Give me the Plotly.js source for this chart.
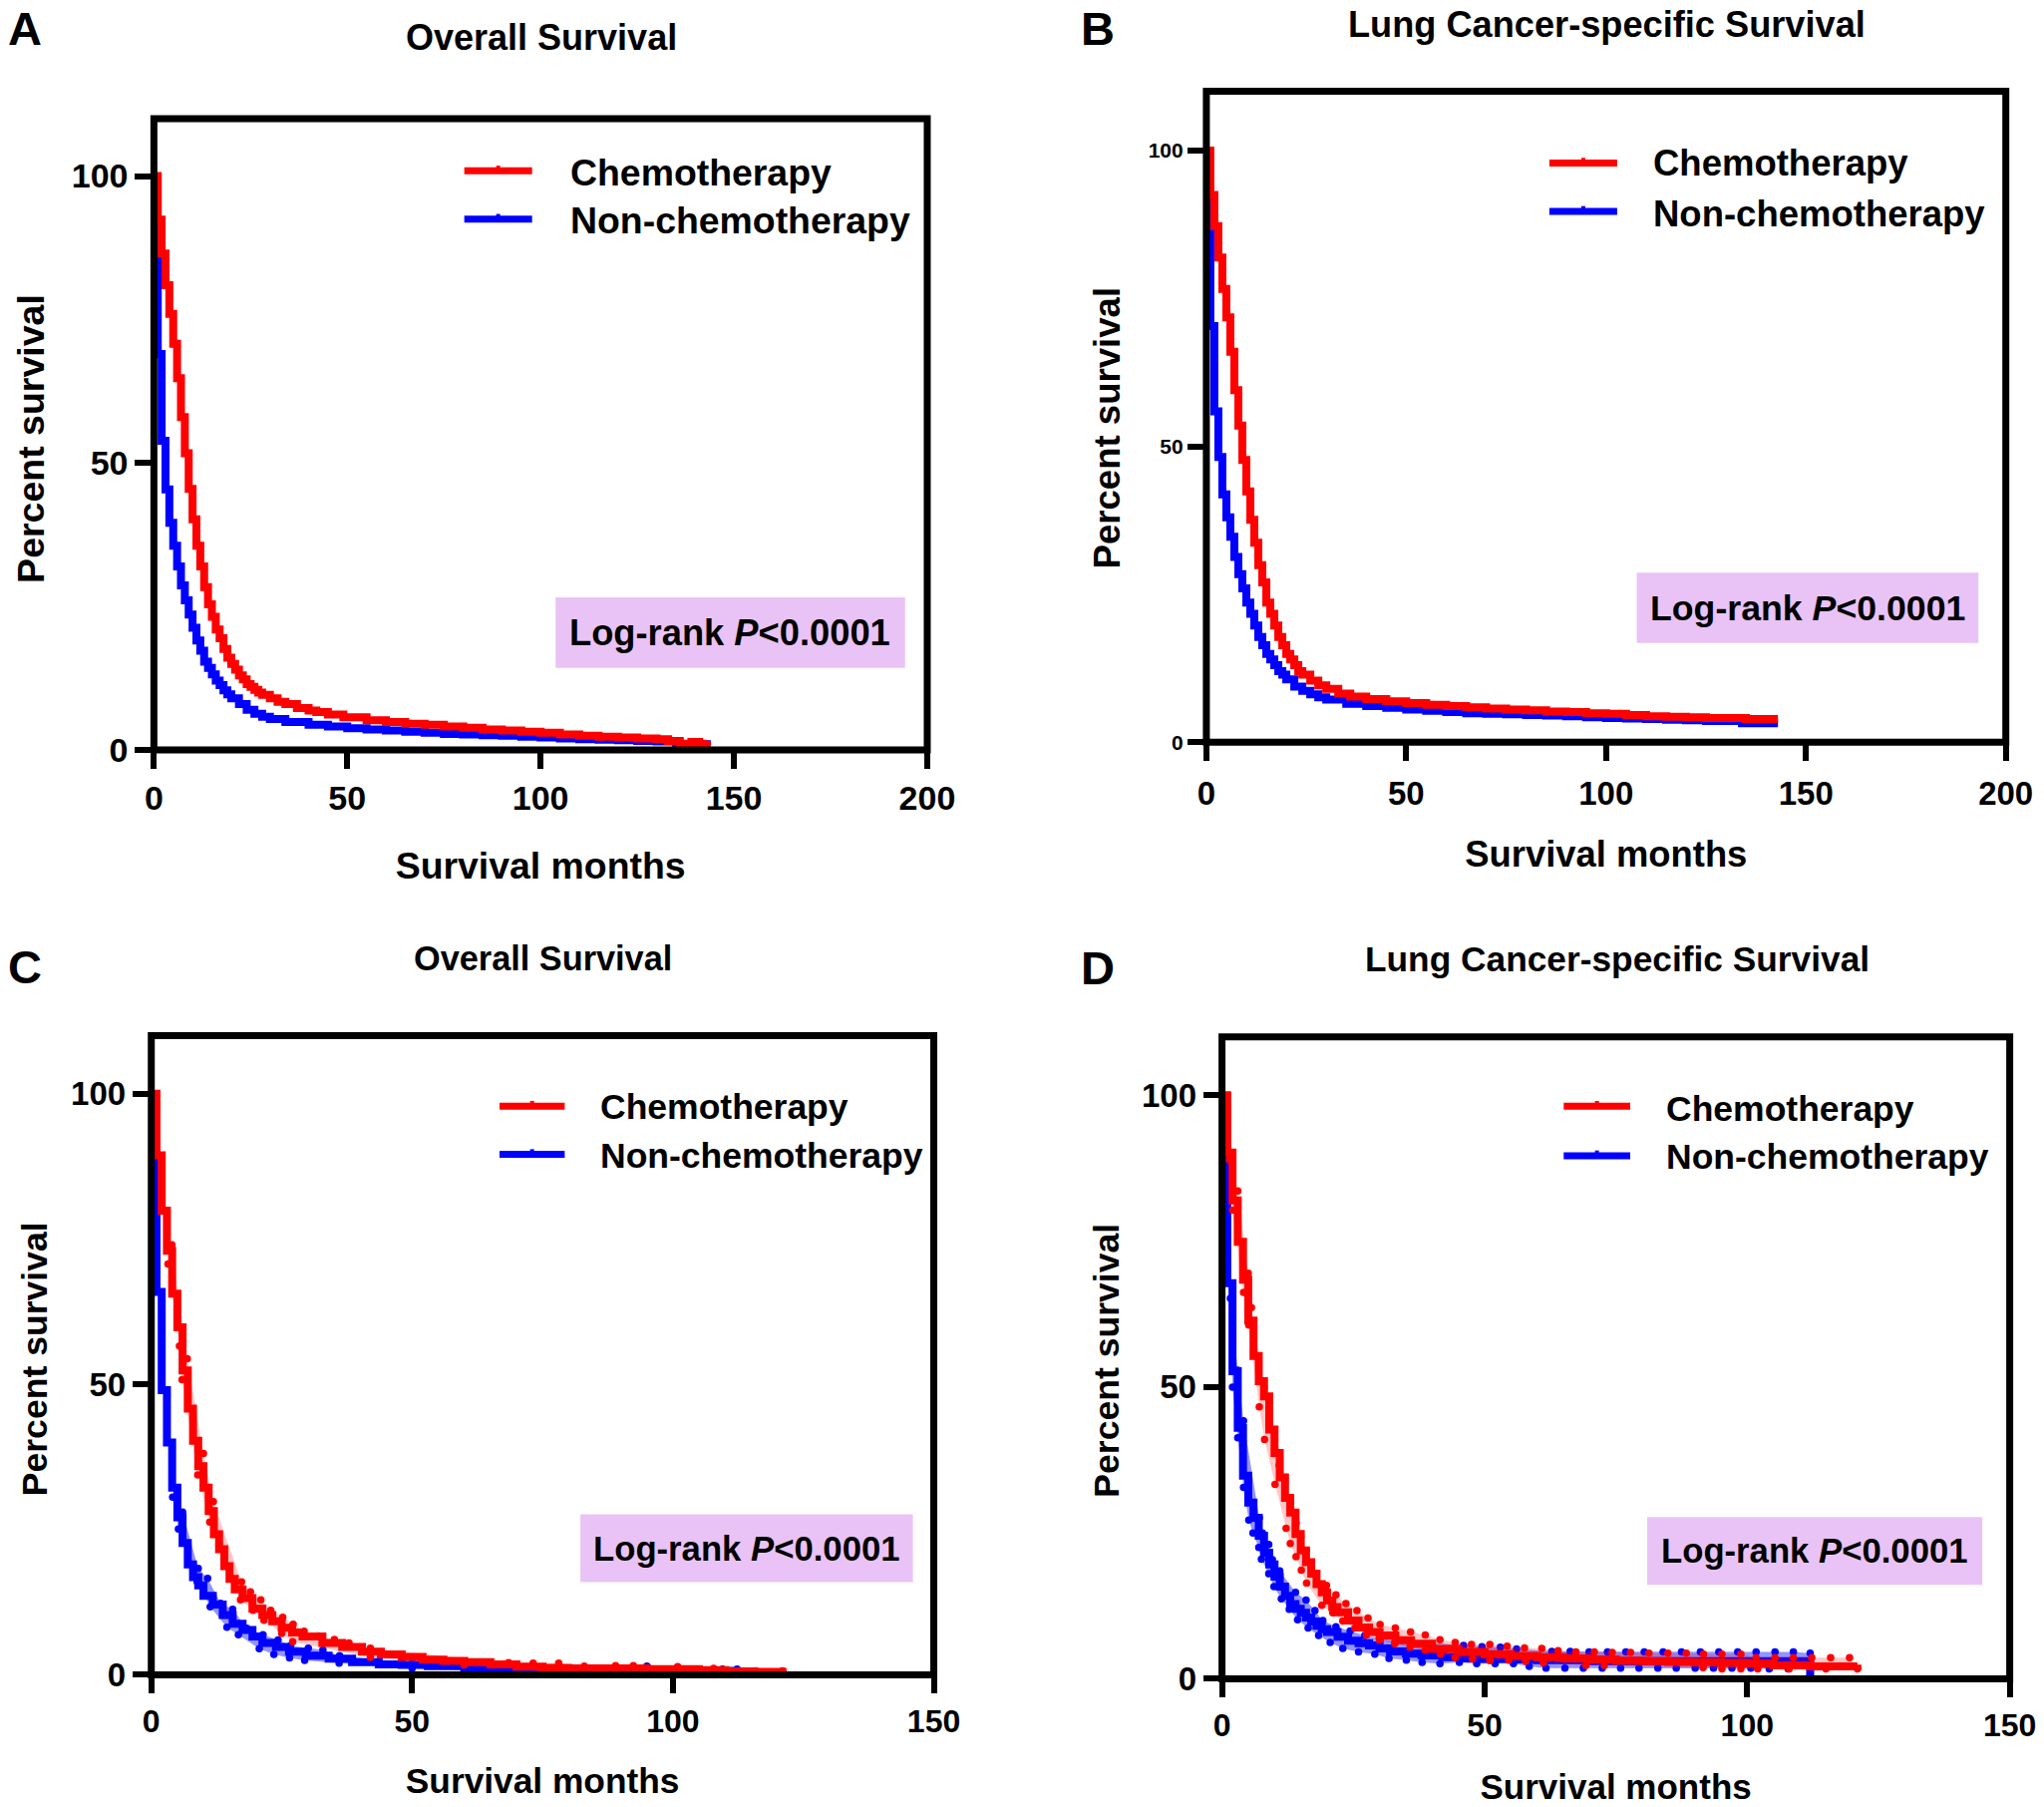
<!DOCTYPE html>
<html>
<head>
<meta charset="utf-8">
<script src="https://cdn.plot.ly/plotly-3.0.1.min.js"></script>
<style>html,body{margin:0;padding:0;background:#fff}</style>
</head>
<body>
<div id="chart" style="width:2050px;height:1812px"></div>
<script>
// ---------- Panel A ----------
const aRedX = [0,1,2,3,4,5,6,7,8,9,10,11,12,13,14,15,16,17,18,19,20,21,22,23,24,25,26,27,28,30,32,34,37,40,42,45,49,55,60,65,70,75,80,85,90,95,100,105,110,115,120,125,130,133,136,139,141,143];
const aRedY = [100,92.4,86.5,81,76,70.8,64.8,58,51.7,45.5,40.2,35.6,32,28.4,25.4,23.2,21,19.5,17.6,16.1,15,14,13,12.3,11.5,11,10.5,10,9.6,9,8.4,8,7.3,6.9,6.6,6.2,5.7,5.2,4.9,4.6,4.4,4.1,3.9,3.6,3.4,3.2,3,2.7,2.5,2.3,2.2,2,1.9,1.6,1.1,1.4,1.1,1.6];
const aBlueX = [0,1,2,3,4,5,6,7,8,9,10,11,12,13,14,15,16,17,18,19,20,22,24,26,28,30,34,40,45,50,55,60,65,70,75,80,85,90,95,100,105,110,115,120,125,130,135,143];
const aBlueY = [91.3,69,53.9,45.4,39.6,35.6,32,28.7,26.1,23.6,21.3,19.1,17.3,15.4,14.3,13.2,12.1,11.3,10.4,9.7,9,8,7,6.3,5.8,5.4,4.9,4.4,4.1,3.8,3.6,3.4,3.2,3,2.8,2.7,2.6,2.5,2.3,2.2,2,1.9,1.8,1.7,1.6,1.5,1,0.9];
// ---------- Panel B ----------
const bRedX = [0,1,2,3,4,5,6,7,8,9,10,11,12,13,14,15,16,17,18,19,20,21,22,23,24,26,28,30,33,36,40,45,50,55,60,65,70,75,80,85,90,95,100,105,110,115,120,125,130,135,143];
const bRedY = [100,92.5,87.2,81.9,76.6,71.8,66,59.5,53.5,47.7,42.4,37.6,33.7,29.9,27,23.6,21.7,19.7,17.8,16.4,14.9,14,13,12,11.4,10.4,9.6,9,8.2,7.7,7.3,6.9,6.6,6.3,6.1,5.9,5.7,5.5,5.4,5.2,5.1,4.9,4.8,4.6,4.4,4.3,4.2,4.1,4.1,3.9,3.9];
const bBlueX = [0,1,2,3,4,5,6,7,8,9,10,11,12,13,14,15,16,17,18,19,20,22,24,26,28,30,35,40,45,50,55,60,65,70,75,80,85,90,95,100,105,110,115,120,125,130,134,143];
const bBlueY = [92,70.3,55.9,48.2,41.9,38,34.7,31.3,28.4,26,23.6,21.7,19.7,17.8,16.4,14.9,14,13,12,11.4,10.6,9.4,8.7,8.1,7.6,7.2,6.5,6.1,5.8,5.5,5.3,5.1,4.9,4.8,4.7,4.6,4.5,4.4,4.2,4.1,4,3.9,3.8,3.7,3.6,3.6,3.2,3.2];
// ---------- Panel C ----------
const cRedX = [0,1,2,3,4,5,6,7,8,9,10,11,12,13,14,15,16,17.5,19.4,21.3,23.2,25,27,29,32.8,36.6,40.4,44,48,52,56,60,65,70,75,80,85,90,95,100,105,110,115,121];
const cRedY = [100,89.4,79.9,73,65.6,59.8,52.4,45.8,40.3,35.9,32.2,28.2,24.2,21.6,18.7,16.5,14.7,13.2,11.4,10.3,9.2,8.1,7.3,6.6,5.5,4.8,4,3.5,3.1,2.6,2.4,2.2,1.8,1.4,1.2,1.1,1.1,1.1,1,1,0.8,0.6,0.5,0.4];
const cBlueX = [0,1,2,3,4,5,6,7,8,9,10,11.8,13.7,15.6,17.5,19.4,21.3,23.9,26.4,29.6,34,38.5,43.6,48,53,60,70,80,90,100,112];
const cBlueY = [88.6,65.9,49,40,32.2,27.1,22.7,19,16.8,15.4,13.6,12.1,10.3,8.8,7.7,6.6,5.5,4.8,4,3.3,2.8,2.2,1.8,1.7,1.5,1.1,0.7,0.6,0.6,0.7,0.9];
const cRedUpperX = [3.95,5.9,6.9,10,11.9,17.3,19,21,22.9,25.2,27.2,29.3,32.1,35.1,37.9,42,68.5,73.2,78.1,83,89,92.4,100.9,107.8,115.9,121];
const cRedUpperY = [74,59.9,54.4,38.1,29.8,16,14.3,12.9,11.1,9.9,8.7,7.5,6.7,6.1,5.5,4.6,2.1,2,2,1.5,1.6,1.6,1.4,1.1,0.7,0.7];
const cRedLowerX = [3.2,5.4,5.9,8.9,11.2,17.1,19.5,21.6,25,27.1,42,60,80,100,121];
const cRedLowerY = [70.7,56.6,50.8,34.4,26.3,12.9,11.1,9.4,7.1,5.7,3,1.7,0.8,0.7,0.2];
const cBlueUpperX = [6,9,10.8,13.3,15.6,18.3,21.4,24.3,26.7,30.1,32.9,36.1,50,70,95,109.5,112.3];
const cBlueUpperY = [28,18.3,16.6,12.3,11.3,8,6.9,6,5,4.6,4.3,3.3,2,1.1,1.5,1,1];
const cBlueLowerX = [4.1,5.2,8.8,11.3,14.5,16.7,20.7,23.5,26.5,29.4,36,50,80,112];
const cBlueLowerY = [30.6,25.1,16,11.7,8.2,6.9,4.5,3.5,2.9,2.5,2,1.1,0.3,0.5];
// ---------- Panel D ----------
const dRedX = [0,1,2,3,4,5,6,7,8,9,10,11,12,13,14,15,16,17,18,19,20,21,22,24,26,28,30,33,36,40,45,50,55,60,65,70,75,80,85,90,95,100,105,112,121];
const dRedY = [100,90.2,82,74.9,68.4,61.4,55.3,51,48.4,42.7,38.7,34.5,31,28.5,24.8,22,20,18,16.2,14.8,13.4,12.3,11.4,10,8.8,8,7.4,6.6,6,5.1,4.6,4.2,3.9,3.7,3.5,3.3,3.1,3,2.9,2.85,2.7,2.6,2.3,2.1,2.4];
const dBlueX = [0,1,2,3,4,5,6,7,8,9,10,11,12,13,14,15,16,17,18,19,20,22,24,26,28,30,32,35,38,42,46,50,56,60,70,80,90,100,112];
const dBlueY = [89.6,67.8,52.7,43,34.8,30.2,27.6,24.5,21.6,19.6,17.5,15.8,14.2,12.8,12,11.3,10.5,9.8,9.1,8.5,8,7.2,6.5,6.1,5.7,5.2,4.7,4.3,4,3.7,3.5,3.4,3.3,3.2,3,3,3,3,0];
const dRedUpperX = [3,5,5.6,8,9,10.9,13.1,14.1,15,16,17,18,19.9,21.7,23.6,25.7,27.8,30.1,33,35.9,38.7,41.5,44.4,47.5,51,54.3,57.6,60.9,64,67.4,70.9,74.3,77.8,81.3,84.9,88.4,91.7,95.2,98.8,101.7,105.3,108.8,112.3,115.9,119.5];
const dRedUpperY = [83.6,69.5,63.6,50,44.4,36.6,28.9,26.7,24.3,22,19.8,17.5,16,14.4,12.9,11.7,10.4,9.3,8.7,8,7.5,6.7,6.2,5.9,5.9,5.6,5.3,5.2,4.8,4.6,4.6,4.5,4.5,4.4,4.4,4.4,4.2,4.2,4.2,3.6,3.6,3.6,3.6,3.6,3.6];
const dRedLowerX = [1.4,2,4.1,5.1,7.1,8.1,10.1,12.2,13,14.1,15.1,16.1,19,21.1,23,25.3,27.5,30,32.9,35.8,38.7,41.6,44.4,47.7,51,54.6,57.8,61.2,69.3,72.8,91.6,95.2,98.8,102,108,115,121];
const dRedLowerY = [89,80.3,66.2,60.6,46.6,41,33.3,25.8,23.2,20.9,18.6,16.4,12.6,11.3,9.9,8.7,7.5,6.6,6,5.4,4.9,4.2,3.6,3.4,3.1,3.2,3,2.7,2.3,2.3,1.9,1.7,1.7,1.7,1.7,1.7,1.7];
const dBlueUpperX = [3,4.1,7.1,7.7,8.9,9.6,11,14,16,17.7,19.2,21.7,24.4,27.2,30.1,46,49.5,53,56.1,62.8,66.3,69.9,73.4,76.9,80.4,84,87.5,91.1,94.6,98.2,101.7,105.3,108.8,112];
const dBlueUpperY = [52.9,44.2,27.6,25,23,20.4,18.5,14.8,13.5,11.7,10,8.9,8.2,7.4,6.8,5.7,5.5,5.4,5.1,4.7,4.7,4.6,4.6,4.6,4.6,4.6,4.6,4.6,4.6,4.6,4.6,4.6,4.6,4.4];
const dBlueLowerX = [1.6,2,3,4.1,5.1,5.9,7,7.5,8.9,9.9,11.3,12.8,14.4,16.4,18.4,20.6,23,26,29.1,31.8,35.1,38.1,41.5,45.2,48.5,52,55.5,58.5,61.7,65.3,68.8,72.4,75.9,79.4,83,86.5,90.1,93.6,97.1,100.7,104.2,107.8,112];
const dBlueLowerY = [65.2,50,41.3,32.8,27.2,25,22.5,20.5,18,15.8,13.7,11.9,10.1,8.7,7.4,6.2,5.2,4.6,4.2,3.5,3.2,2.8,2.6,2.8,2.6,2.6,2.6,2.1,1.8,1.8,1.8,1.8,1.8,1.8,1.8,1.8,1.8,1.8,1.8,1.8,1.7,1.7,1.7];

const seriesNames = ['Chemotherapy','Non-chemotherapy'];
const panelLetters = ['A','B','C','D'];
const titleOverall = 'Overall Survival';
const titleLung = 'Lung Cancer-specific Survival';
const xLabel = 'Survival months';
const yLabel = 'Percent survival';
const pText = 'Log-rank <i>P</i><0.0001';
const yTicks = [0,50,100];
const xTicksLong = [0,50,100,150,200];
const xTicksShort = [0,50,100,150];

const W = 2050, H = 1812, S = 1.308;
const RED = '#ff0000', BLUE = '#0000ff', BOX = '#E9C3F5';
const FONT = 'Liberation Sans';
const px = v => v * S / W;
const py = v => 1 - v * S / H;

// frame geometry is given in the coordinates of a 1567 wide view
const panels = [
 {ax:'',  L:118,R:711,T:91, B:575, xT:xTicksLong, xMax:200, title:titleOverall, tc:[415,29], ts:36, tick:34, yTick:34,
  lx:[356,408], ly:[131,168], tx:436, tyy:[132,169], lf:37.4, box:[426,694,458,512], bf:36.3, lt:[19,21.5], xs:37.4, ys:37.5, xst:36, yc:[24,336], xtso:0},
 {ax:'2', L:925,R:1538,T:70, B:569, xT:xTicksLong, xMax:200, title:titleLung, tc:[1232,19], ts:36.2, tick:33, yTick:21,
  lx:[1188,1240], ly:[125,162], tx:1266, tyy:[125,164], lf:36.5, box:[1255,1517,439,493], bf:35.7, lt:[842,21.5], xs:36.4, ys:36.6, xst:30, yc:[849,328], xtso:4},
 {ax:'3', L:116,R:716,T:794,B:1284, xT:xTicksShort, xMax:150, title:titleOverall, tc:[416,735], ts:34.3, tick:32, yTick:33,
  lx:[383,433], ly:[848,885], tx:459, tyy:[849,886], lf:35.5, box:[445,700,1161,1213], bf:34.7, lt:[19,741], xs:35.3, ys:35.6, xst:30, yc:[27,1042], xtso:0},
 {ax:'4', L:937,R:1541,T:795,B:1287, xT:xTicksShort, xMax:150, title:titleLung, tc:[1240,735], ts:35.3, tick:32, yTick:33,
  lx:[1199,1250], ly:[848,886], tx:1276, tyy:[850,887], lf:35.5, box:[1263,1520,1163,1215], bf:34.7, lt:[842,742], xs:35, ys:35.6, xst:32, yc:[849,1043], xtso:0}
];

const curves = [
 {red:[aRedX,aRedY], blue:[aBlueX,aBlueY]},
 {red:[bRedX,bRedY], blue:[bBlueX,bBlueY]},
 {red:[cRedX,cRedY], blue:[cBlueX,cBlueY],
  rU:[cRedUpperX,cRedUpperY], rL:[cRedLowerX,cRedLowerY], bU:[cBlueUpperX,cBlueUpperY], bL:[cBlueLowerX,cBlueLowerY]},
 {red:[dRedX,dRedY], blue:[dBlueX,dBlueY],
  rU:[dRedUpperX,dRedUpperY], rL:[dRedLowerX,dRedLowerY], bU:[dBlueUpperX,dBlueUpperY], bL:[dBlueLowerX,dBlueLowerY]}
];

const data = [], shapes = [], annotations = [], layout = {};

function band(lo, up, col, fillcol, ax, name){
  data.push({x:lo[0], y:lo[1], mode:'lines+markers', type:'scatter', name:name+' lower CI', xaxis:'x'+ax, yaxis:'y'+ax, showlegend:false, hoverinfo:'skip',
    line:{shape:'linear',width:0}, marker:{color:col,size:7.5}});
  data.push({x:up[0], y:up[1], mode:'lines+markers', type:'scatter', name:name+' upper CI', xaxis:'x'+ax, yaxis:'y'+ax, showlegend:false, hoverinfo:'skip',
    line:{shape:'linear',width:0}, marker:{color:col,size:7.5}, fill:'tonexty', fillcolor:fillcol});
}
function curve(c, col, ax, name){
  data.push({x:c[0], y:c[1], mode:'lines', type:'scatter', name:name, xaxis:'x'+ax, yaxis:'y'+ax, showlegend:false,
    line:{shape:'hv',color:col,width:8}});
}

const txt = (x,y,text,size,extra) => Object.assign({xref:'paper',yref:'paper',x:px(x),y:py(y),text:text,showarrow:false,xanchor:'center',yanchor:'middle',
   font:{family:FONT,size:size,color:'#000',weight:700}},extra||{});

panels.forEach((p,i) => {
  const c = curves[i];
  if (c.bU) band(c.bL,c.bU,BLUE,'rgba(0,0,255,.42)',p.ax,seriesNames[1]);
  curve(c.blue,BLUE,p.ax,seriesNames[1]);
  if (c.rU) band(c.rL,c.rU,RED,'rgba(255,0,0,.22)',p.ax,seriesNames[0]);
  curve(c.red,RED,p.ax,seriesNames[0]);

  layout['xaxis'+p.ax] = {domain:[px(p.L),px(p.R)], range:[0,p.xMax], anchor:'y'+p.ax, tickvals:p.xT, ticktext:p.xT.map(String),
     showgrid:false, zeroline:false, showline:false, ticks:'outside', ticklen:18, tickwidth:6, tickcolor:'#000', ticklabelstandoff:p.xtso,
     tickfont:{family:FONT,size:p.tick,weight:700,color:'#000'},
     title:{text:xLabel,standoff:p.xst,font:{family:FONT,size:p.xs,weight:700,color:'#000'}}};
  layout['yaxis'+p.ax] = {domain:[py(p.B),py(p.T)], range:[0,110], anchor:'x'+p.ax, tickvals:yTicks, ticktext:yTicks.map(String),
     showgrid:false, zeroline:false, showline:false, ticks:'outside', ticklen:18, tickwidth:6, tickcolor:'#000',
     tickfont:{family:FONT,size:p.yTick,weight:700,color:'#000'}};

  shapes.push({type:'rect',xref:'x'+p.ax+' domain',yref:'y'+p.ax+' domain',x0:0,x1:1,y0:0,y1:1,line:{color:'#000',width:7},layer:'above'});
  // Log-rank box
  shapes.push({type:'rect',xref:'paper',yref:'paper',x0:px(p.box[0]),x1:px(p.box[1]),y0:py(p.box[3]),y1:py(p.box[2]),fillcolor:BOX,line:{width:0},layer:'below'});
  annotations.push(txt((p.box[0]+p.box[1])/2,(p.box[2]+p.box[3])/2,pText,p.bf));
  // legend
  [RED,BLUE].forEach((col,k) => {
    shapes.push({type:'line',xref:'paper',yref:'paper',x0:px(p.lx[0]),x1:px(p.lx[1]),y0:py(p.ly[k]),y1:py(p.ly[k]),line:{color:col,width:7}});
    const mid=(p.lx[0]+p.lx[1])/2;
    shapes.push({type:'line',xref:'paper',yref:'paper',x0:px(mid),x1:px(mid),y0:py(p.ly[k]),y1:py(p.ly[k]-4),line:{color:col,width:4}});
    annotations.push(txt(p.tx,p.tyy[k],seriesNames[k],p.lf,{xanchor:'left'}));
  });
  annotations.push(txt(p.tc[0],p.tc[1],p.title,p.ts));
  annotations.push(txt(p.lt[0],p.lt[1],panelLetters[i],47));
  annotations.push(txt(p.yc[0],p.yc[1],yLabel,p.ys,{textangle:-90}));
});

Object.assign(layout,{width:W,height:H,margin:{l:0,r:0,t:0,b:0},paper_bgcolor:'#fff',plot_bgcolor:'rgba(0,0,0,0)',
  showlegend:false,shapes:shapes,annotations:annotations});
Plotly.newPlot('chart',data,layout,{displayModeBar:false,staticPlot:true});
</script>
</body>
</html>
